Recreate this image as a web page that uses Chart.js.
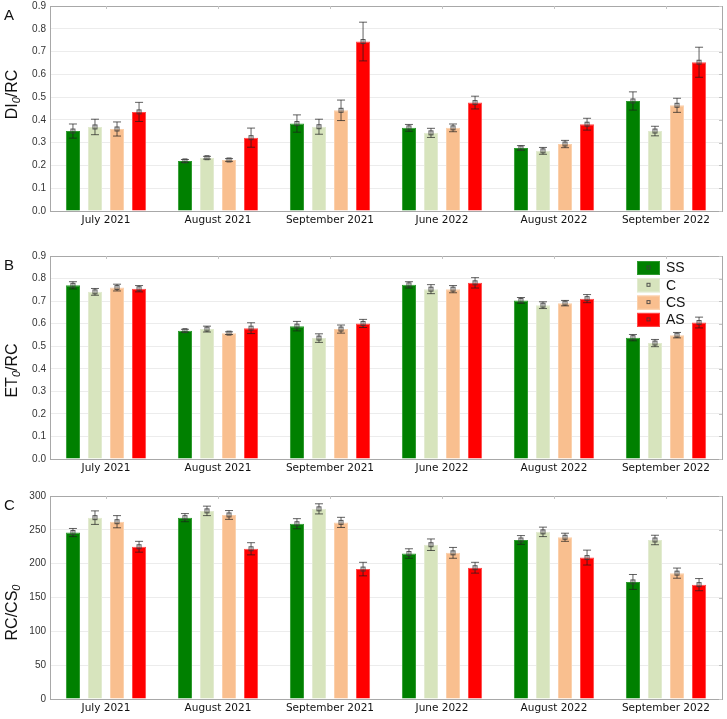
<!DOCTYPE html>
<html>
<head>
<meta charset="utf-8">
<script src="https://cdn.jsdelivr.net/npm/chart.js@4.4.0/dist/chart.umd.min.js"></script>
<style>
body { margin: 0; background: #fff; width: 727px; height: 719px; position: relative; overflow: hidden; }
canvas { position: absolute; left: 0; }
</style>
</head>
<body>
<canvas id="chartA" width="727" height="238" style="top:-4px"></canvas>
<canvas id="chartB" width="727" height="240" style="top:234px"></canvas>
<canvas id="chartC" width="727" height="245" style="top:474px"></canvas>
<script>
var months = ["July 2021", "August 2021", "September 2021", "June 2022", "August 2022", "September 2022"];
var groups = ["SS", "C", "CS", "AS"];
var groupColors = ["#008000", "#d7e4bd", "#f9bf8f", "#ff0000"];
var groupBorders = ["#2f9a2f", "#e2ebd0", "#fbd0ab", "#ff4a4a"];

// panel A : DI0/RC
var diSS = [0.351, 0.220, 0.384, 0.365, 0.277, 0.483];
var diSSerr = [0.031, 0.006, 0.038, 0.015, 0.010, 0.040];
var diC = [0.369, 0.234, 0.370, 0.343, 0.264, 0.351];
var diCerr = [0.034, 0.006, 0.033, 0.020, 0.015, 0.021];
var diCS = [0.360, 0.224, 0.442, 0.365, 0.294, 0.464];
var diCSerr = [0.031, 0.006, 0.045, 0.017, 0.016, 0.031];
var diAS = [0.435, 0.322, 0.744, 0.476, 0.381, 0.653];
var diASerr = [0.042, 0.042, 0.085, 0.028, 0.026, 0.066];

// panel B : ET0/RC
var etSS = [0.770, 0.569, 0.589, 0.772, 0.703, 0.538];
var etSSerr = [0.016, 0.006, 0.021, 0.014, 0.013, 0.014];
var etC = [0.741, 0.576, 0.536, 0.753, 0.682, 0.514];
var etCerr = [0.015, 0.013, 0.019, 0.020, 0.015, 0.016];
var etCS = [0.760, 0.558, 0.576, 0.753, 0.691, 0.549];
var etCSerr = [0.015, 0.006, 0.018, 0.016, 0.012, 0.012];
var etAS = [0.755, 0.580, 0.601, 0.781, 0.711, 0.605];
var etASerr = [0.014, 0.024, 0.018, 0.023, 0.018, 0.024];

// panel C : RC/CS0
var rcSS = [246, 268, 259, 215, 235, 173];
var rcSSerr = [6, 6, 7.5, 7, 6.5, 11];
var rcC = [268, 278, 281, 228, 247, 235];
var rcCerr = [10, 7, 7.5, 8.5, 7, 7];
var rcCS = [262, 272, 261, 216, 239, 186];
var rcCSerr = [9, 6.5, 7.5, 8, 6, 7.5];
var rcAS = [225, 222, 192, 194, 209, 169];
var rcASerr = [8, 9, 10, 8, 11, 9];

var tickFont = { family: "'Liberation Sans Narrow', 'Liberation Sans', sans-serif", size: 10 };
var catFont = { family: "'DejaVu Sans', sans-serif", size: 10.5 };
var titleFamily = "'Liberation Sans', Arial, sans-serif";

// error bars + small hollow markers
var errorBars = {
	id: 'errorBars',
	afterDatasetsDraw: function(chart) {
		var ctx = chart.ctx;
		var ys = chart.scales.y;
		ctx.save();
		chart.data.datasets.forEach(function(ds, di) {
			var meta = chart.getDatasetMeta(di);
			meta.data.forEach(function(bar, i) {
				var v = ds.data[i], e = ds.errors[i];
				var x = bar.x;
				var yHi = ys.getPixelForValue(v + e);
				var yLo = ys.getPixelForValue(v - e);
				var yMid = ys.getPixelForValue(v);
				ctx.strokeStyle = "rgba(30,30,30,0.7)";
				ctx.lineWidth = 1;
				ctx.beginPath();
				ctx.moveTo(x, yHi); ctx.lineTo(x, yLo);
				ctx.moveTo(x - 4, yHi); ctx.lineTo(x + 4, yHi);
				ctx.moveTo(x - 4, yLo); ctx.lineTo(x + 4, yLo);
				ctx.stroke();
				ctx.strokeStyle = "rgba(60,60,60,0.85)";
				ctx.strokeRect(x - 2, yMid - 2, 4, 4);
			});
		});
		ctx.restore();
	}
};

// frame round the plot, inner ticks, panel letter, y title with subscript
var decorations = {
	id: 'decorations',
	afterDraw: function(chart, args, opts) {
		var ctx = chart.ctx;
		var a = chart.chartArea;
		var xs = chart.scales.x, ys = chart.scales.y;
		ctx.save();
		ctx.strokeStyle = "#a8a8a8";
		ctx.lineWidth = 1;
		ctx.strokeRect(Math.round(a.left) + 0.5, Math.round(a.top) + 0.5, Math.round(a.right - a.left), Math.round(a.bottom - a.top));

		ctx.strokeStyle = "#c4c4c4";
		ctx.beginPath();
		for (var i = 0; i < xs.ticks.length; i++) {
			var tx = Math.round(xs.getPixelForTick(i)) + 0.5;
			ctx.moveTo(tx, a.top); ctx.lineTo(tx, a.top + 3);
		}
		for (var j = 0; j < ys.ticks.length; j++) {
			var ty = Math.round(ys.getPixelForTick(j)) + 0.5;
			ctx.moveTo(a.right, ty); ctx.lineTo(a.right - 3, ty);
		}
		ctx.stroke();

		ctx.fillStyle = "#111";
		ctx.font = "15px " + titleFamily;
		ctx.textBaseline = "alphabetic";
		ctx.textAlign = "left";
		ctx.fillText(opts.letter, 4, a.top + 14);

		// rotated title
		var parts = opts.title;
		var big = "16px " + titleFamily, small = "italic 11px " + titleFamily;
		var total = 0;
		parts.forEach(function(p) {
			ctx.font = p[1] ? small : big;
			total += ctx.measureText(p[0]).width;
		});
		ctx.translate(17, (a.top + a.bottom) / 2 + opts.shift);
		ctx.rotate(-Math.PI / 2);
		var cx = -total / 2;
		parts.forEach(function(p) {
			ctx.font = p[1] ? small : big;
			ctx.fillText(p[0], cx, p[1] ? 3 : 0);
			cx += ctx.measureText(p[0]).width;
		});
		ctx.restore();
	}
};

// legend box drawn inside panel B
var boxLegend = {
	id: 'boxLegend',
	afterDraw: function(chart, args, opts) {
		if (!opts.show) return;
		var ctx = chart.ctx;
		var a = chart.chartArea;
		ctx.save();
		chart.data.datasets.forEach(function(ds, i) {
			var bx = a.right - 85, by = a.top + 5 + i * 17.3;
			ctx.fillStyle = ds.backgroundColor;
			ctx.fillRect(bx, by, 23, 14);
			ctx.strokeStyle = ds.borderColor;
			ctx.strokeRect(bx + 0.5, by + 0.5, 22, 13);
			ctx.strokeStyle = "rgba(60,60,60,0.85)";
			ctx.strokeRect(bx + 10, by + 5, 3, 3);
			ctx.fillStyle = "#111";
			ctx.font = "14px " + titleFamily;
			ctx.textBaseline = "middle";
			ctx.fillText(ds.label, bx + 29, by + 7.5);
		});
		ctx.restore();
	}
};

function makeDatasets(values, errors) {
	var datasets = [];
	for (var i = 0; i < groups.length; i++) {
		datasets.push({
			label: groups[i],
			data: values[i],
			errors: errors[i],
			backgroundColor: groupColors[i],
			borderColor: groupBorders[i],
			borderWidth: 1,
			categoryPercentage: 0.787,
			barPercentage: 0.64
		});
	}
	return datasets;
}

function makePanel(id, values, errors, yMax, yStep, digits, letter, title, shift, padTop, xHeight, showLegend) {
	return new Chart(document.getElementById(id), {
		type: "bar",
		data: { labels: months, datasets: makeDatasets(values, errors) },
		plugins: [errorBars, decorations, boxLegend],
		options: {
			responsive: false,
			animation: false,
			layout: { padding: { top: padTop, right: 5, left: 0, bottom: 0 } },
			plugins: {
				legend: { display: false },
				tooltip: { enabled: false },
				decorations: { letter: letter, title: title, shift: shift },
				boxLegend: { show: showLegend }
			},
			scales: {
				x: {
					grid: { display: false, drawTicks: false },
					border: { color: "#a8a8a8" },
					ticks: { font: catFont, color: "#111", padding: 3, maxRotation: 0 },
					afterFit: function(s) { s.height = xHeight; }
				},
				y: {
					min: 0,
					max: yMax,
					grid: { color: "#ececec", drawTicks: false },
					border: { display: false },
					ticks: {
						stepSize: yStep,
						font: tickFont,
						color: "#333",
						padding: 4,
						callback: function(v) { return v.toFixed(digits); }
					},
					afterFit: function(s) { s.width = 50; }
				}
			}
		}
	});
}

makePanel("chartA", [diSS, diC, diCS, diAS], [diSSerr, diCerr, diCSerr, diASerr],
	0.9, 0.1, 1, "A", [["DI", 0], ["0", 1], ["/RC", 0]], -14, 10, 23, false);
makePanel("chartB", [etSS, etC, etCS, etAS], [etSSerr, etCerr, etCSerr, etASerr],
	0.9, 0.1, 1, "B", [["ET", 0], ["0", 1], ["/RC", 0]], 13, 22, 15, true);
makePanel("chartC", [rcSS, rcC, rcCS, rcAS], [rcSSerr, rcCerr, rcCSerr, rcASerr],
	300, 50, 0, "C", [["RC/CS", 0], ["0", 1]], 15, 22, 20, false);
</script>
</body>
</html>
